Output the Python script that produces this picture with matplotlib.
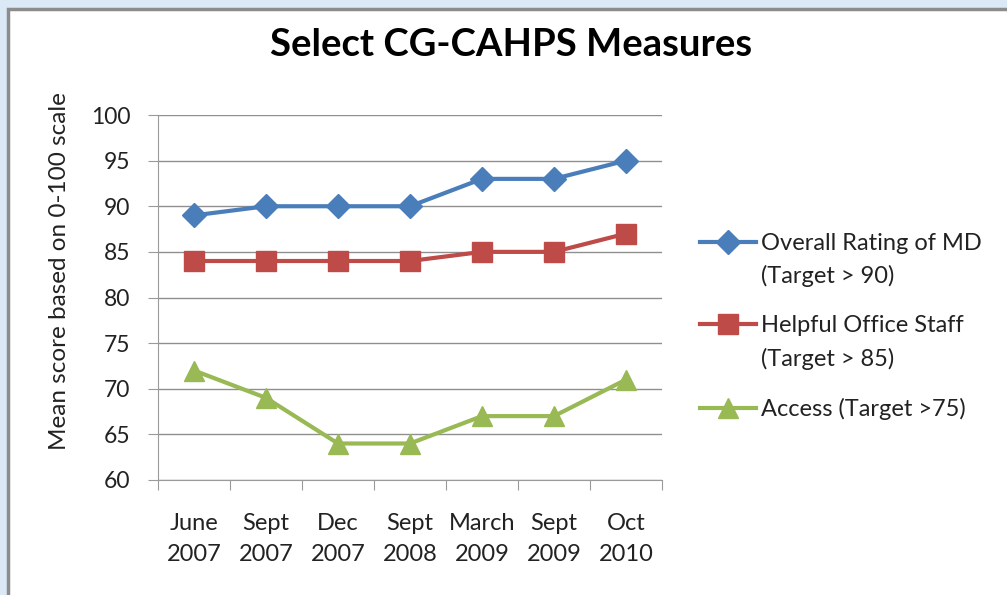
import matplotlib.pyplot as plt
from matplotlib.patches import Rectangle

dates = ["June\n2007", "Sept\n2007", "Dec\n2007", "Sept\n2008", "March\n2009", "Sept\n2009", "Oct\n2010"]
overall = [89, 90, 90, 90, 93, 93, 95]
helpful = [84, 84, 84, 84, 85, 85, 87]
access = [72, 69, 64, 64, 67, 67, 71]
names = ["Overall Rating of MD", "Helpful Office Staff", "Access (Target >75)"]
targets = ["(Target > 90)", "(Target > 85)", None]

plt.rcParams['font.family'] = ['Lato', 'DejaVu Sans']

fig = plt.figure(figsize=(10.07, 5.95), dpi=100, facecolor='#dbe8f6')
# white chart frame behind everything
fig.patches.append(Rectangle((8/1007, -0.1), 1.1, 1 - 9/595 + 0.1, transform=fig.transFigure,
                             facecolor='white', edgecolor='#8c8c8c', linewidth=2.5, zorder=-10))

ax = fig.add_axes([158/1007, 115/595, 504/1007, 365/595])
ax.patch.set_alpha(0)
x = range(len(dates))
ax.plot(x, overall, color='#4a7ebb', lw=3, marker='D', ms=12, label=names[0])
ax.plot(x, helpful, color='#be4b48', lw=3, marker='s', ms=14, label=names[1])
ax.plot(x, access, color='#98b954', lw=3, marker='^', ms=15, label=names[2])

ax.set_xlim(-0.5, len(dates) - 0.5)
ax.set_ylim(60, 100)
ax.set_yticks(range(60, 101, 5))
ax.set_xticks([i - 0.5 for i in range(len(dates) + 1)], minor=False)
ax.set_xticklabels([])
ax.set_xticks(list(x), minor=True)
ax.set_xticklabels(dates, minor=True, fontsize=17, color='#222222', linespacing=1.55)
ax.tick_params(axis='x', which='minor', length=0, pad=24)
ax.tick_params(axis='x', which='major', length=7, color='#9a9a9a')
ax.tick_params(axis='y', length=7, color='#9a9a9a', labelsize=16.5, labelcolor='#222222', pad=13)
ax.grid(axis='y', color='#8f8f8f', lw=1)
ax.set_axisbelow(True)
for s in ['top', 'right']:
    ax.spines[s].set_visible(False)
for s in ['left', 'bottom']:
    ax.spines[s].set_color('#9a9a9a')

ax.set_ylabel('Mean score based on 0-100 scale', fontsize=17.5, color='#222222', va='center')
ax.yaxis.set_label_coords(-0.196, 0.573)
fig.text(0.508, 0.925, 'Select CG-CAHPS Measures', ha='center', va='center',
         fontsize=27.5, fontweight='bold', color='black')

leg = ax.legend(loc='upper left', bbox_to_anchor=(1.075, 0.677), frameon=False, borderpad=0,
                borderaxespad=0, fontsize=17, handlelength=2.4, labelspacing=2.6, handletextpad=0.2)
for t, extra in zip(leg.get_texts(), targets):
    t.set_color('#222222')
    if extra:
        ax.annotate(extra, xy=(0, 0.5), xycoords=t, xytext=(0, -33), textcoords='offset pixels',
                    ha='left', va='center', fontsize=17, color='#222222',
                    annotation_clip=False, zorder=10)

fig.savefig('out.png', dpi=100, facecolor=fig.get_facecolor())
